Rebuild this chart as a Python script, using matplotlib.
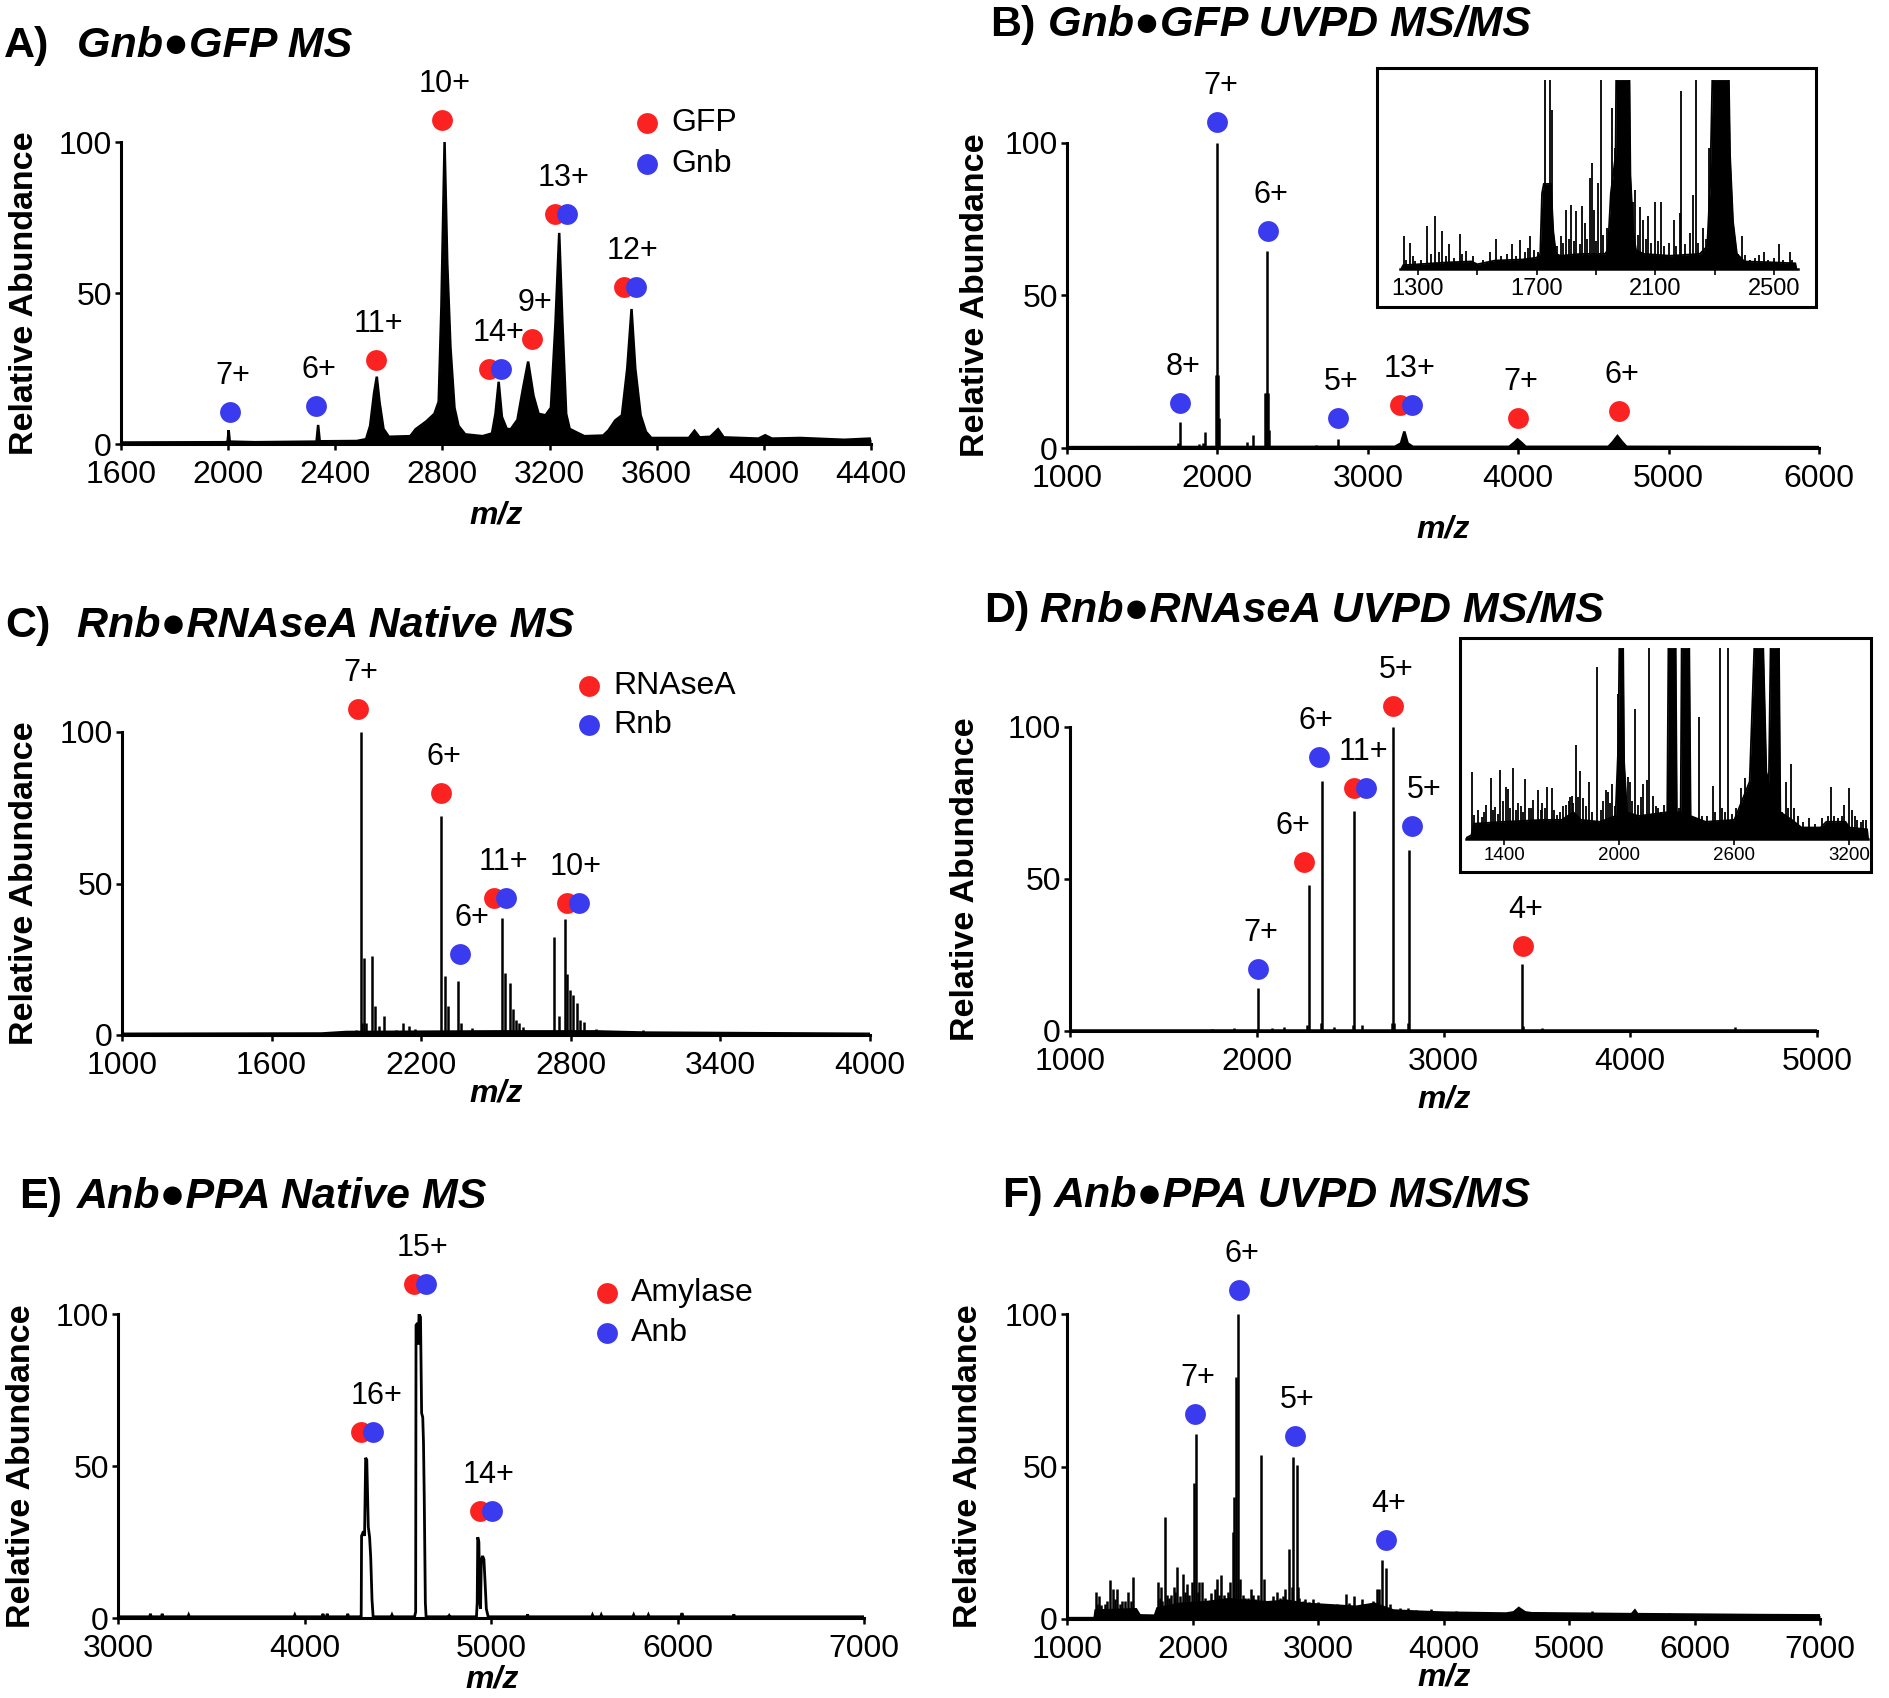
"Six-panel native MS / UVPD MS/MS spectra figure"

import matplotlib.pyplot as plt
from matplotlib.patches import Rectangle
from matplotlib.transforms import offset_copy

plt.rcParams['font.family'] = ['Liberation Sans', 'DejaVu Sans']

W, H = 1890, 1698
RED = '#fb2222'
BLUE = '#3a3aee'

#####
# Data (m/z, relative abundance)
#####

# A) Gnb-GFP MS: broad profile
A_profile = [
    (1600, 0.5), (1990, 0.6), (1998, 0.8), (2002, 4.6), (2006, 0.8), (2100, 0.6),
    (2330, 0.8), (2336, 6.3), (2342, 0.9), (2480, 1.0), (2515, 1.6), (2530, 6),
    (2545, 17), (2555, 22.3), (2565, 14), (2580, 5), (2600, 2.4), (2680, 2.6),
    (2700, 4.9), (2740, 7.5), (2770, 10), (2786, 14), (2796, 45), (2808, 100),
    (2818, 60), (2830, 32), (2845, 12), (2860, 6), (2885, 3.2), (2950, 2.6),
    (2985, 3.5), (2998, 10), (3010, 20.6), (3022, 9), (3040, 5), (3055, 4.9),
    (3080, 8), (3100, 18), (3120, 27.3), (3140, 16), (3159, 10), (3185, 9.5),
    (3205, 12), (3222, 40), (3236, 69.9), (3248, 40), (3262, 10), (3275, 5),
    (3302, 3.8), (3330, 2.6), (3400, 2.8), (3420, 4.5), (3445, 7.8), (3470, 9.5),
    (3490, 25), (3506, 44.7), (3520, 25), (3540, 9.5), (3560, 4), (3580, 2),
    (3720, 2), (3741, 4.4), (3760, 2.2), (3800, 2.4), (3829, 4.9), (3850, 2.2),
    (3980, 1.8), (4005, 2.9), (4030, 1.8), (4136, 2), (4300, 1.4), (4396, 1.8),
    (4400, 1.5),
]
A_ion_mz = [2006, 2329, 2551, 2797, 2997, 3133, 3241, 3500]
A_ion_y = [10.7, 12.7, 27.8, 107.4, 25, 34.7, 76, 52.1]
A_ion_label = ['7+', '6+', '11+', '10+', '14+', '9+', '13+', '12+']
A_ion_kind = ['b', 'b', 'r', 'r', 'rb', 'r', 'rb', 'rb']

# B) Gnb-GFP UVPD MS/MS
B_profile = [
    (1000, 0.3), (3180, 0.4), (3220, 1.5), (3243, 5.4), (3265, 1.5), (3300, 0.4),
    (3940, 0.4), (3975, 1.8), (3996, 2.8), (4020, 1.8), (4050, 0.4), (4600, 0.4),
    (4630, 2.0), (4660, 3.9), (4690, 2.0), (4720, 0.4), (6000, 0.3),
]
B_sticks = [
    (1400, 0.6), (1735, 1.5), (1749, 8.5), (1880, 1.2), (1905, 1.5), (1919, 5.4),
    (1993, 24), (1997, 24), (2000, 100), (2004, 24), (2008, 10), (2194, 2),
    (2235, 4.3), (2318, 18), (2326, 18), (2333, 64.6), (2338, 18), (2342, 6),
    (2655, 1), (2802, 2.8),
]
B_ion_mz = [1749, 2000, 2336, 2802, 3255, 3996, 4672]
B_ion_y = [14.6, 106.9, 71.2, 10, 14.1, 10, 12]
B_ion_label = ['8+', '7+', '6+', '5+', '13+', '7+', '6+']
B_ion_kind = ['b', 'b', 'b', 'b', 'rb', 'r', 'r']

# B inset (scaled to inset height, clipped at 100)
BI_profile = [
    (1245, 0.5), (1250, 2), (1300, 2.5), (1400, 3.5), (1480, 4), (1500, 2.5),
    (1560, 4.5), (1650, 5), (1700, 6), (1712, 8), (1718, 40), (1724, 45),
    (1748, 45), (1756, 20), (1765, 8), (1780, 7), (1850, 8), (1930, 8),
    (1940, 10), (1950, 40), (1966, 60), (1968, 100), (2013, 100), (2016, 50),
    (2025, 20), (2035, 10), (2060, 8), (2150, 7), (2250, 8), (2275, 12),
    (2285, 45), (2292, 100), (2348, 100), (2352, 60), (2362, 25), (2375, 8),
    (2400, 4), (2500, 3.5), (2572, 3), (2575, 0.5),
]
BI_sticks = [
    (1253, 17.6), (1272, 13.7), (1283, 6.7), (1330, 22.5), (1356, 27.8),
    (1382, 19.9), (1404, 13.2), (1443, 18.3), (1463, 9.7), (1485, 6.7),
    (1542, 8.8), (1562, 15.8), (1618, 13.2), (1643, 15.5), (1671, 11),
    (1679, 17.3), (1728, 100), (1744, 100), (1753, 84), (1783, 17.3), (1798, 31),
    (1816, 34), (1834, 30.5), (1852, 33.5), (1862, 24.3), (1879, 48), (1885, 56),
    (1892, 31.3), (1908, 45.4), (1916, 100), (1937, 21.7), (1955, 85), (1963, 64),
    (2025, 35.7), (2030, 42), (2049, 33), (2058, 26), (2075, 27.8), (2098, 35.2),
    (2118, 35.2), (2162, 26), (2182, 29.6), (2188, 94), (2216, 19), (2227, 39),
    (2236, 100), (2261, 21.7), (2281, 64), (2392, 17.6), (2401, 7.6),
    (2449, 7.6), (2468, 8.8), (2516, 13.4), (2553, 8.8),
    (1260, 5), (1290, 4), (1310, 5), (1345, 8), (1370, 9), (1395, 7), (1420, 6),
    (1450, 8), (1520, 5), (1580, 7), (1600, 8), (1630, 7), (1660, 9), (1690, 10),
    (1705, 9), (1770, 12), (1790, 14), (1808, 16), (1825, 15), (1845, 13),
    (1870, 16), (1900, 15), (1925, 18), (1945, 20), (2040, 18), (2068, 16),
    (2085, 14), (2108, 15), (2130, 12), (2145, 14), (2170, 12), (2200, 13),
    (2245, 14), (2270, 16), (2380, 8), (2420, 5), (2435, 6), (2480, 5),
    (2500, 6), (2530, 5), (2560, 5),
]

# C) Rnb-RNAseA native MS
C_profile = [(1000, 0.4), (1800, 0.5), (1900, 1), (2500, 1.2), (2900, 1.2),
             (3100, 0.8), (4000, 0.4)]
C_sticks = [
    (1940, 1.5), (1957, 100), (1963, 4), (1969, 25.5), (1980, 4), (2004, 26),
    (2013, 9.6), (2030, 3), (2051, 6.3), (2100, 1.5), (2129, 4), (2153, 3),
    (2177, 2), (2210, 1.2), (2281, 72.3), (2295, 19.5), (2307, 9.6),
    (2347, 17.8), (2358, 4), (2402, 2.4), (2525, 38.7), (2537, 20.6),
    (2556, 17.3), (2567, 8.5), (2580, 5), (2591, 4), (2610, 2.5), (2733, 32.3),
    (2752, 6.3), (2776, 38.2), (2785, 20), (2798, 15), (2809, 13.1),
    (2823, 10.7), (2838, 5), (2852, 4.3), (2900, 2), (3088, 1.7), (3420, 0.8),
    (3728, 0.8),
]
C_ion_mz = [1947, 2279, 2354, 2517, 2809]
C_ion_y = [107.5, 79.8, 26.6, 45.1, 43.5]
C_ion_label = ['7+', '6+', '6+', '11+', '10+']
C_ion_kind = ['r', 'r', 'b', 'rb', 'rb']

# D) Rnb-RNAseA UVPD MS/MS
D_profile = [(1000, 0.3), (5000, 0.3)]
D_sticks = [
    (1763, 0.8), (1880, 1.0), (2007, 14), (2082, 1), (2148, 1.2), (2270, 2),
    (2278, 48), (2343, 2.5), (2350, 82.4), (2415, 1.2), (2516, 2), (2522, 72.5),
    (2562, 2), (2724, 2.5), (2731, 100), (2737, 2.5), (2811, 2.5), (2816, 59.6),
    (3419, 22), (3425, 1.5), (3527, 1.0), (4560, 1.3),
]
D_ion_mz = [2007, 2255, 2333, 2555, 2728, 2832, 3425]
D_ion_y = [20.5, 55.7, 90, 79.9, 106.8, 67.3, 27.9]
D_ion_label = ['7+', '6+', '6+', '11+', '5+', '5+', '4+']
D_ion_kind = ['b', 'r', 'b', 'rb', 'r', 'b', 'r']

# D inset (scaled to inset height, clipped at 100)
DI_profile = [
    (1200, 0.5), (1228, 2), (1240, 8), (1400, 9), (1600, 10), (1700, 10),
    (1760, 14), (1800, 10), (1900, 9), (1980, 12), (1995, 50), (2000, 100),
    (2020, 100), (2025, 40), (2040, 14), (2100, 12), (2250, 14), (2256, 100),
    (2294, 100), (2300, 14), (2320, 14), (2325, 100), (2365, 100), (2372, 12),
    (2450, 9), (2600, 10), (2680, 30), (2704, 100), (2751, 100), (2767, 35),
    (2780, 30), (2789, 100), (2833, 100), (2840, 14), (2900, 10), (2950, 6),
    (3050, 6), (3080, 9), (3180, 9), (3200, 6), (3295, 5), (3300, 0.5),
]
DI_sticks = [
    (1233, 35.2), (1240, 12.5), (1282, 11.7), (1303, 17.8), (1329, 32),
    (1351, 16.9), (1377, 36), (1391, 19.9), (1407, 27.4), (1417, 26),
    (1447, 37.3), (1473, 18.6), (1487, 17), (1508, 31.2), (1529, 16),
    (1551, 20.4), (1574, 25.6), (1598, 18.6), (1621, 27.4), (1647, 26.5),
    (1673, 12.5), (1708, 17.4), (1743, 22.1), (1755, 22.6), (1772, 49.1),
    (1795, 35.5), (1812, 21.3), (1843, 30), (1885, 90), (1930, 25.6),
    (1943, 24.7), (1960, 28.6), (1995, 76), (2043, 32.6), (2056, 30), (2083, 68),
    (2125, 29), (2143, 30.8), (2156, 100), (2177, 22.6), (2203, 16),
    (2395, 11.7), (2416, 64), (2487, 27.9), (2525, 100), (2535, 16), (2565, 100),
    (2633, 26.5), (2656, 31.7), (2673, 24.7), (2868, 30), (2896, 39.2),
    (2913, 16), (2991, 10.8), (3056, 10.8), (3104, 27.4), (3174, 17.6),
    (3196, 26.8), (3212, 15), (3240, 10), (3270, 10),
    (1260, 15), (1295, 14), (1340, 15), (1365, 13), (1430, 16), (1460, 15),
    (1495, 14), (1540, 16), (1590, 15), (1610, 16), (1660, 15), (1690, 14),
    (1720, 18), (1735, 20), (1760, 19), (1785, 22), (1825, 17), (1860, 14),
    (1905, 15), (1915, 20), (1950, 19), (1975, 17), (2065, 20), (2100, 18),
    (2115, 22), (2190, 17), (2215, 14), (2235, 18), (2310, 16), (2380, 12),
    (2430, 12), (2460, 12), (2500, 14), (2550, 14), (2590, 13), (2610, 16),
    (2690, 34), (2770, 30), (2850, 14), (2880, 16), (2930, 12), (2960, 9),
    (3020, 8), (3090, 12), (3120, 12), (3140, 11), (3160, 12), (3230, 12),
    (3260, 9), (3285, 10),
]

# E) Anb-PPA native MS: line profile
E_profile = [
    (3000, 0.4), (3170, 0.4), (3174, 1.4), (3178, 0.4), (3233, 0.4), (3237, 1.4),
    (3241, 0.4), (3375, 0.4), (3379, 1.0), (3383, 0.4), (3944, 0.4), (3948, 1.0),
    (3952, 0.4), (4095, 0.4), (4099, 1.4), (4103, 0.4), (4118, 0.4), (4122, 1.4),
    (4126, 0.4), (4228, 0.4), (4232, 1.4), (4236, 0.4), (4300, 0.4), (4304, 0.6),
    (4306, 27), (4316, 28.5), (4322, 27), (4328, 52.7), (4334, 52), (4342, 30),
    (4349, 26.6), (4355, 20), (4362, 6), (4368, 0.4), (4465, 0.4), (4469, 1.0),
    (4473, 0.4), (4590, 0.4), (4596, 2), (4598, 96.3), (4606, 97), (4610, 90),
    (4614, 100), (4622, 99), (4628, 67.4), (4634, 66), (4638, 57.8), (4642, 40),
    (4648, 5), (4652, 0.4), (4772, 0.4), (4776, 0.8), (4780, 0.4), (4922, 0.4),
    (4926, 5), (4929, 26.6), (4935, 25), (4940, 5), (4944, 3), (4948, 19),
    (4955, 20.4), (4962, 19.3), (4968, 12), (4975, 3), (4985, 0.4), (5192, 0.4),
    (5196, 1.2), (5200, 0.4), (5540, 0.4), (5544, 1.0), (5548, 0.4), (5587, 0.4),
    (5591, 1.0), (5595, 0.4), (5761, 0.4), (5765, 1.0), (5769, 0.4), (5840, 0.4),
    (5844, 1.0), (5848, 0.4), (6018, 0.4), (6024, 1.6), (6030, 0.4), (6298, 0.4),
    (6302, 1.2), (6306, 0.4), (7000, 0.4),
]
E_ion_mz = [4337, 4619, 4972]
E_ion_y = [61.2, 110, 35.3]
E_ion_label = ['16+', '15+', '14+']
E_ion_kind = ['rb', 'rb', 'rb']

# F) Anb-PPA UVPD MS/MS
F_profile = [
    (1000, 0.3), (1220, 0.3), (1228, 2.8), (1400, 3.0), (1550, 3.2), (1580, 1.2),
    (1700, 1.1), (1720, 3.5), (1900, 5), (2100, 5.5), (2300, 6.5), (2420, 6),
    (2600, 5.5), (2750, 6), (2900, 5), (3100, 4.5), (3300, 4.0), (3450, 5),
    (3600, 2.8), (3800, 2.4), (4000, 2.1), (4500, 1.8), (4560, 2.2), (4600, 3.6),
    (4650, 2.2), (4700, 1.9), (5500, 1.6), (5525, 2.8), (5545, 1.6), (6500, 1.3),
    (7000, 1.2),
]
F_sticks = [
    (1228, 8.7), (1252, 7.6), (1340, 12.9), (1364, 10), (1398, 9.8), (1437, 5.9),
    (1485, 8.7), (1529, 13.8), (1728, 12.1), (1747, 10.5), (1781, 33.6),
    (1810, 7), (1849, 10.5), (1878, 17), (1922, 14.9), (1956, 11.5), (1994, 12),
    (2009, 44.5), (2028, 60.7), (2053, 12.1), (2077, 12.1), (2120, 6),
    (2198, 13.2), (2227, 14.4), (2260, 7), (2300, 12), (2319, 28.5), (2333, 40),
    (2343, 79.3), (2363, 100), (2378, 13), (2416, 7), (2465, 9.8), (2547, 53.7),
    (2571, 13.2), (2673, 8.7), (2740, 10), (2766, 22.8), (2790, 10.5),
    (2804, 53.1), (2829, 50.5), (2843, 10.5), (2900, 6.5), (2960, 6.4),
    (3221, 8.1), (3289, 7.6), (3347, 6.5), (3474, 9.8), (3490, 10), (3508, 19.2),
    (3542, 16.6), (3571, 5), (3720, 3.5), (3900, 3.2),
    (1240, 5), (1270, 4.5), (1300, 5), (1320, 6), (1380, 6.5), (1420, 5),
    (1460, 6), (1510, 6), (1740, 7), (1760, 6), (1795, 8), (1830, 8),
    (1860, 9), (1900, 7.5), (1940, 9), (1970, 8), (2040, 9), (2100, 7),
    (2150, 8.5), (2180, 10), (2210, 8), (2250, 8), (2280, 9), (2400, 8),
    (2440, 7), (2480, 8), (2500, 6.5), (2520, 8), (2600, 6), (2640, 7.5),
    (2700, 6.8), (2720, 7.5), (2850, 7), (2880, 6), (2930, 5.5), (3000, 5.5),
    (3050, 5), (3150, 4.8), (3250, 5.2), (3400, 4.8), (3440, 6), (3650, 3.5),
    (3780, 3), (4100, 2.5), (4800, 2.3), (5180, 2.6), (5800, 2), (6200, 1.8),
    (6700, 1.7),
]
F_ion_mz = [2019, 2368, 2814, 3542]
F_ion_y = [67.1, 107.8, 59.9, 26]
F_ion_label = ['7+', '6+', '5+', '4+']
F_ion_kind = ['b', 'b', 'b', 'b']

#####
# Layout (pixels in the 1890x1698 canvas)
#####

# x0, x1, y(0), y(100), ylabel x, xlabel (x, y), tag x, name x, title baseline
LAYOUT = {
    'A': (121, 871, 444, 142, 25, (496, 515), 4, 77, 57),
    'B': (1067, 1819, 448, 143, 975, (1443, 529), 990, 1048, 36),
    'C': (122, 870, 1035, 732, 25, (496, 1093), 5, 77, 637),
    'D': (1070, 1817, 1031, 727, 966, (1444, 1099), 984, 1040, 622),
    'E': (118, 864, 1618, 1314, 22, (492, 1680), 19, 77, 1208),
    'F': (1067, 1820, 1619, 1314, 969, (1444, 1678), 1002, 1054, 1207),
}
# label nudges in pixels, keyed by (panel, ion index)
NUDGE = {('C', 2): 9, ('D', 1): -14, ('D', 2): -6, ('D', 5): 9, ('E', 0): 6}

fig = plt.figure(figsize=(W / 100, H / 100), dpi=100)


def fx(x):
    return x / W


def fy(y):
    return 1 - y / H


def main_axes(key, xlim, xticks, name):
    x0, x1, y0, y100, ylx, (mx, my), tagx, namex, tby = LAYOUT[key]
    ax = fig.add_axes([fx(x0), fy(y0), (x1 - x0) / W, (y0 - y100) / H])
    ax.set_xlim(*xlim)
    ax.set_ylim(0, 100)
    for s in ['top', 'right']:
        ax.spines[s].set_visible(False)
    for s in ['left', 'bottom']:
        ax.spines[s].set_linewidth(2.2)
    ax.set_xticks(xticks)
    ax.set_yticks([0, 50, 100])
    ax.tick_params(axis='both', direction='out', length=4.5, width=1.8,
                   labelsize=23)
    ax.tick_params(axis='x', pad=7)
    ax.tick_params(axis='y', pad=2)
    fig.text(fx(ylx), fy((y0 + y100) / 2), 'Relative Abundance', rotation=90,
             ha='center', va='center', fontsize=24.5, fontweight='bold')
    fig.text(fx(mx), fy(my), 'm/z', ha='center', va='center', fontsize=23,
             fontweight='bold', fontstyle='italic')
    fig.text(fx(tagx), fy(tby), key + ')', ha='left', va='baseline',
             fontsize=31, fontweight='bold')
    fig.text(fx(namex), fy(tby), name, ha='left', va='baseline', fontsize=31,
             fontweight='bold', fontstyle='italic')
    return ax


def spectrum(ax, profile=None, sticks=None, lw=1.8, fill=True):
    if profile:
        x, y = zip(*profile)
        if fill:
            ax.fill_between(x, y, 0, color='k', lw=0)
        ax.plot(x, y, color='k', lw=lw, solid_joinstyle='miter')
    if sticks:
        x, y = zip(*sticks)
        ax.vlines(x, 0, y, color='k', lw=lw)


def dot(ax, x, y, color, dx=0):
    tr = offset_copy(ax.transData, fig=fig, x=dx, y=0, units='dots')
    ax.plot(x, y, 'o', ms=15, color=color, mec='none', transform=tr,
            clip_on=False, zorder=5)


def ions(ax, key, mz, y, labels, kinds):
    for i, (m, v, lab, kind) in enumerate(zip(mz, y, labels, kinds)):
        if kind == 'rb':
            dot(ax, m, v, RED, -6)
            dot(ax, m, v, BLUE, 6)
        else:
            dot(ax, m, v, RED if kind == 'r' else BLUE)
        ax.annotate(lab, (m, v), xytext=(3 + NUDGE.get((key, i), 0), 36),
                    textcoords='offset pixels', ha='center', va='center',
                    fontsize=22, annotation_clip=False)


def legend(ax, x, y, names, step):
    for k, (name, color) in enumerate(zip(names, [RED, BLUE])):
        yy = y - k * step
        dot(ax, x, yy, color)
        ax.annotate(name, (x, yy), xytext=(24, 0), textcoords='offset pixels',
                    ha='left', va='center', fontsize=23, annotation_clip=False)


def inset(box, inner, xlim, ticks, labels, profile, sticks, pad, size):
    bx0, by0, bx1, by1 = box
    fig.add_artist(Rectangle((fx(bx0), fy(by1)), (bx1 - bx0) / W,
                             (by1 - by0) / H, transform=fig.transFigure,
                             fill=False, lw=2.2, ec='k'))
    ix0, ix1, iy0, iy1 = inner
    ax = fig.add_axes([fx(ix0), fy(iy0), (ix1 - ix0) / W, (iy0 - iy1) / H])
    ax.set_xlim(*xlim)
    ax.set_ylim(0, 100)
    for s in ['top', 'right', 'left']:
        ax.spines[s].set_visible(False)
    ax.spines['bottom'].set_linewidth(1.8)
    ax.set_yticks([])
    ax.set_xticks(ticks)
    ax.set_xticklabels(labels)
    ax.tick_params(axis='x', direction='out', length=4, width=1.2,
                   labelsize=size, pad=pad)
    spectrum(ax, profile, sticks, lw=1.3)
    return ax


#####
# Panels
#####

ax = main_axes('A', (1600, 4400), range(1600, 4401, 400), 'Gnb●GFP MS')
spectrum(ax, A_profile)
ions(ax, 'A', A_ion_mz, A_ion_y, A_ion_label, A_ion_kind)
legend(ax, 3565, 106.3, ['GFP', 'Gnb'], 13.7)

ax = main_axes('B', (1000, 6000), range(1000, 6001, 1000),
               'Gnb●GFP UVPD MS/MS')
spectrum(ax, B_profile, B_sticks)
ions(ax, 'B', B_ion_mz, B_ion_y, B_ion_label, B_ion_kind)
inset((1377, 68, 1816, 307), (1400.2, 1797.7, 269, 80), (1240, 2580),
      range(1300, 2501, 200), ['1300', '', '1700', '', '2100', '', '2500'],
      BI_profile, BI_sticks, 2.5, 17)

ax = main_axes('C', (1000, 4000), range(1000, 4001, 600),
               'Rnb●RNAseA Native MS')
spectrum(ax, C_profile, C_sticks)
ions(ax, 'C', C_ion_mz, C_ion_y, C_ion_label, C_ion_kind)
legend(ax, 2875, 115.2, ['RNAseA', 'Rnb'], 13)

ax = main_axes('D', (1000, 5000), range(1000, 5001, 1000),
               'Rnb●RNAseA UVPD MS/MS')
spectrum(ax, D_profile, D_sticks)
ions(ax, 'D', D_ion_mz, D_ion_y, D_ion_label, D_ion_kind)
inset((1460, 638, 1871, 872), (1466, 1868.5, 839, 647.7), (1200, 3300),
      [1400, 2000, 2600, 3200], ['1400', '2000', '2600', '3200'],
      DI_profile, DI_sticks, 1.5, 13.5)

ax = main_axes('E', (3000, 7000), range(3000, 7001, 1000),
               'Anb●PPA Native MS')
spectrum(ax, E_profile, lw=2.0, fill=False)
ions(ax, 'E', E_ion_mz, E_ion_y, E_ion_label, E_ion_kind)
legend(ax, 5623, 107, ['Amylase', 'Anb'], 13.2)

ax = main_axes('F', (1000, 7000), range(1000, 7001, 1000),
               'Anb●PPA UVPD MS/MS')
spectrum(ax, F_profile, F_sticks)
ions(ax, 'F', F_ion_mz, F_ion_y, F_ion_label, F_ion_kind)

fig.savefig('out.png', dpi=100)
